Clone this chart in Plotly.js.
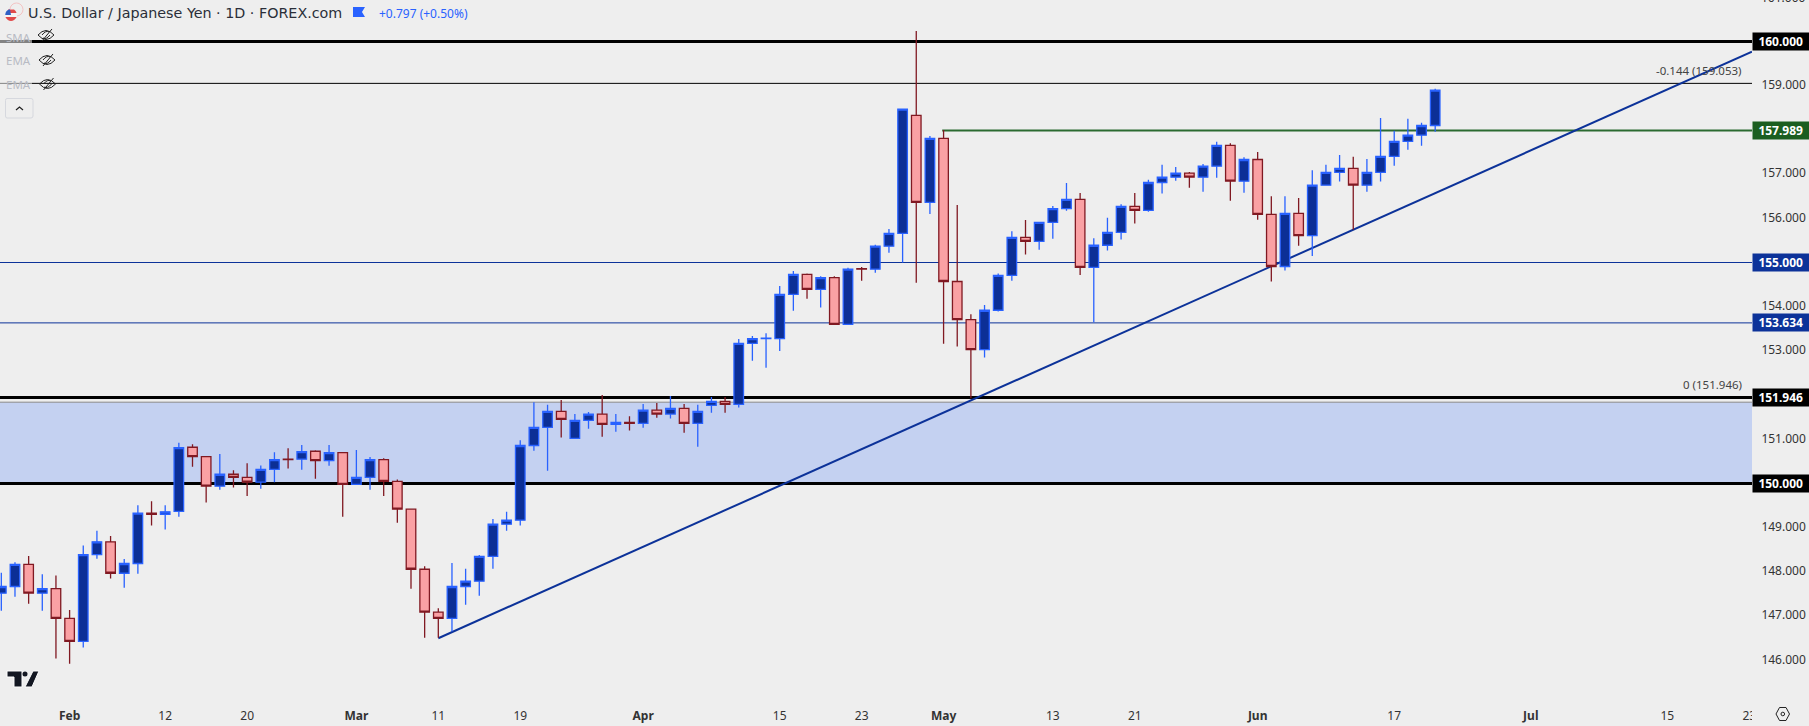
<!DOCTYPE html>
<html>
<head>
<meta charset="utf-8">
<script src="https://cdn.plot.ly/plotly-3.0.1.min.js"></script>
<style>html,body{margin:0;padding:0;background:#eeeeee;overflow:hidden}</style>
</head>
<body>
<div id="chart" style="width:1809px;height:726px"></div>
<script>
// USD/JPY daily candles
const open = [147.52,147.67,148.17,147.52,147.62,146.95,146.43,148.39,148.68,147.97,148.19,149.33,149.30,149.37,150.82,150.61,149.94,150.21,150.14,150.03,150.32,150.55,150.55,150.73,150.52,150.70,149.98,150.14,150.54,150.05,149.42,148.06,147.09,146.95,147.67,147.79,148.35,149.08,149.17,150.86,151.27,151.63,151.02,151.43,151.57,151.34,151.38,151.36,151.66,151.57,151.70,151.36,151.77,151.86,151.79,153.17,153.28,153.28,154.28,154.73,154.39,154.66,153.60,154.86,154.85,155.37,155.66,158.33,156.36,157.81,154.57,153.71,153.03,153.92,154.71,155.57,155.48,155.91,156.22,156.43,154.89,155.39,155.68,156.27,156.18,156.81,156.93,157.02,156.93,157.18,157.65,156.84,157.33,156.09,154.91,156.11,155.61,156.75,157.04,157.13,156.75,157.04,157.40,157.74,157.88,158.10];
const high = [147.98,148.22,148.36,147.95,147.92,147.14,148.60,148.93,148.81,148.29,149.51,149.60,149.51,150.92,150.89,150.62,150.67,150.30,150.46,150.41,150.71,150.80,150.87,150.75,150.87,150.70,150.76,150.60,150.57,150.09,149.42,148.13,147.18,148.20,148.07,148.38,149.20,149.36,150.98,151.84,151.78,151.89,151.57,151.62,152.00,151.57,151.52,151.80,151.82,151.98,151.80,151.78,151.96,151.96,153.27,153.34,153.40,154.47,154.81,154.75,154.69,154.69,154.88,154.90,155.40,155.76,158.47,160.24,157.86,158.00,156.30,153.83,154.04,154.75,155.71,155.96,155.91,156.28,156.80,156.57,155.55,156.01,156.32,156.57,156.87,157.21,157.16,157.05,157.23,157.73,157.70,157.38,157.50,156.50,156.50,156.46,157.09,157.21,157.43,157.39,157.34,158.27,157.98,158.25,158.16,158.93];
const low = [147.12,147.44,147.28,147.12,146.04,145.92,146.29,148.30,147.85,147.64,147.96,149.05,148.96,149.25,150.38,149.57,149.86,149.91,149.72,149.88,150.03,150.34,150.31,150.11,150.40,149.25,149.98,149.86,149.72,149.11,147.62,146.51,146.51,146.65,147.26,147.46,148.07,148.93,149.05,150.74,150.29,151.04,151.02,151.24,151.06,151.17,151.20,151.26,151.49,151.47,151.15,150.83,151.60,151.60,151.72,152.78,152.62,153.00,153.91,154.18,153.98,153.60,153.60,154.59,154.77,155.22,155.00,154.54,156.10,153.16,153.10,151.93,152.85,153.89,154.59,155.18,155.29,155.54,156.17,154.72,153.65,155.27,155.52,155.88,156.15,156.56,156.85,156.69,156.60,156.92,156.40,156.58,155.97,154.57,154.82,155.38,155.15,156.75,156.83,155.74,156.60,156.83,157.19,157.55,157.64,157.96];
const close = [147.67,148.17,147.52,147.62,146.95,146.43,148.39,148.68,147.97,148.19,149.33,149.30,149.36,150.81,150.61,149.94,150.21,150.14,150.03,150.32,150.54,150.54,150.72,150.52,150.70,149.98,150.14,150.54,150.05,149.42,148.06,147.09,146.95,147.67,147.79,148.35,149.08,149.17,150.86,151.27,151.63,151.45,151.43,151.57,151.34,151.38,151.36,151.66,151.57,151.70,151.36,151.63,151.86,151.79,153.17,153.28,153.29,154.28,154.73,154.39,154.66,153.60,154.85,154.85,155.37,155.66,158.47,156.36,157.81,154.57,153.71,153.03,153.92,154.71,155.57,155.48,155.91,156.22,156.43,154.89,155.39,155.68,156.27,156.18,156.81,156.93,157.02,156.93,157.18,157.65,156.84,157.33,156.09,154.91,156.11,155.61,156.75,157.04,157.13,156.75,157.04,157.40,157.74,157.88,158.10,158.90];
const bars = close.map((_, i) => i);

const timeTickBars = [5,12,18,26,32,38,47,57,63,69,77,83,92,102,112,122,128];
const timeTickText = ['<b>Feb</b>','12','20','<b>Mar</b>','11','19','<b>Apr</b>','15','23','<b>May</b>','13','21','<b>Jun</b>','17','<b>Jul</b>','15','23'];
const priceTicks = [146,147,148,149,151,153,154,156,157,159];
const priceTickText = ['146.000','147.000','148.000','149.000','151.000','153.000','154.000','156.000','157.000','159.000'];

// Drawn levels
const zoneLow = 150, zoneHigh = 151.84;
const heavyLevels = [160, 151.946, 150];
const thinBlackLevel = 159.053;
const blueLevels = [155, 153.634];
const greenLevel = 157.989, greenStartBar = 68.9;
const trendBars = [32, 128.2], trendPrices = [146.50, 159.77];
const priceTags = [
  {v:160, t:'160.000', c:'#000000'},
  {v:157.989, t:'157.989', c:'#1b5e20'},
  {v:155, t:'155.000', c:'#0c3299'},
  {v:153.634, t:'153.634', c:'#0c3299'},
  {v:151.946, t:'151.946', c:'#000000'},
  {v:150, t:'150.000', c:'#000000'}
];

const BG = '#eeeeee', W = 1752, H = 702;
const FONT = '"Noto Sans", "Open Sans", sans-serif';
const xRange = [-0.097, 128.2], yRange = [145.057, 160.939];

// Furniture helpers: pixel -> paper, for the icons only
const fx = p => +(p / W).toFixed(5), fy = p => +(1 - p / H).toFixed(5);
const px = s => s.replace(/(-?[\d.]+)[ ,](-?[\d.]+)/g, (m, a, b) => fx(+a) + ',' + fy(+b));
const icon = (d, o) => Object.assign({type:'path', xref:'paper', yref:'paper', layer:'above', path:px(d),
   line:{color:'rgba(0,0,0,0)', width:1}, fillcolor:'rgba(0,0,0,0)'}, o);
const rectP = (x0,y0,x1,y1,o) => Object.assign({type:'rect', xref:'paper', yref:'paper', layer:'above',
   x0:fx(x0), x1:fx(x1), y0:fy(y1), y1:fy(y0), line:{width:0}}, o);
const eye = (cx, cy) => icon(
  `M ${cx-8} ${cy} Q ${cx} ${cy-9} ${cx+8} ${cy} Q ${cx} ${cy+9} ${cx-8} ${cy} Z M ${cx-4} ${cy+6} L ${cx+6} ${cy-6} M ${cx-4} ${cy} Q ${cx} ${cy-5} ${cx+3} ${cy-3} M ${cx+4} ${cy} Q ${cx} ${cy+5} ${cx-3} ${cy+3}`,
  {line:{color:'#222222', width:1}});

const hline = (v, color, width, x0) => ({type:'line', layer:'below', xref:'x', yref:'y',
   x0: x0 === undefined ? xRange[0] : x0, x1:xRange[1], y0:v, y1:v, line:{color, width}});

const shapes = [
  {type:'rect', layer:'below', xref:'paper', yref:'y', x0:0, x1:1, y0:zoneLow, y1:zoneHigh, fillcolor:'#c4d1f1', line:{width:0}},
  hline(zoneHigh, '#8a8a8a', 1),
  ...heavyLevels.map(v => hline(v, '#000000', 3)),
  hline(thinBlackLevel, '#000000', 1),
  ...blueLevels.map(v => hline(v, '#0c3299', 1)),
  hline(greenLevel, '#2a6a30', 2, greenStartBar),
  {type:'line', layer:'below', xref:'x', yref:'y', x0:trendBars[0], x1:trendBars[1], y0:trendPrices[0], y1:trendPrices[1], line:{color:'#0c3299', width:2}},

  // faded strip behind the legend
  rectP(0,26,32,95,{fillcolor:BG, opacity:0.55}),
  // mask for the clipped last time label
  rectP(1752,703,1809,726,{fillcolor:BG}),

  // flag
  {type:'circle', xref:'paper', yref:'paper', layer:'above', x0:fx(10), x1:fx(23), y0:fy(16), y1:fy(3), line:{color:'#f3c4c4', width:1}, fillcolor:BG},
  {type:'circle', xref:'paper', yref:'paper', layer:'above', x0:fx(5), x1:fx(17), y0:fy(21), y1:fy(9), line:{width:0}, fillcolor:'#f4f4f4'},
  icon('M 8 9.5 L 14 9.5 Q 16 10.5 16.6 13 L 8 13 Z', {fillcolor:'#e04a4a'}),
  icon('M 5.4 17 L 16.6 17 Q 14.5 21 11 21 Q 7.5 21 5.4 17 Z', {fillcolor:'#e04a4a'}),
  icon('M 5.2 15 Q 5.2 10.5 10 9.2 L 11 15 Z', {fillcolor:'#2f5fc4'}),
  // blue marker
  icon('M 353 7 L 365 7 L 362 12 L 365 17 L 353 17 Z', {fillcolor:'#2962ff'}),
  // eyes
  eye(46,35), eye(47,60), eye(47.5,84),
  // collapse button
  {type:'path', xref:'paper', yref:'paper', layer:'above', fillcolor:'rgba(0,0,0,0)', line:{color:'#d6d8de', width:1},
   path:px('M 7 98.5 L 31 98.5 Q 33 98.5 33 100.5 L 33 116 Q 33 118 31 118 L 7 118 Q 5.5 118 5.5 116 L 5.5 100.5 Q 5.5 98.5 7 98.5 Z')},
  icon('M 16 110 L 19.5 107 L 23 110', {line:{color:'#222222', width:1.2}}),
  // TV logo
  icon('M 7 671 L 22 671 L 22 687 L 14 687 L 14 677 L 7 677 Z', {fillcolor:'#131722', line:{color:'#ffffff', width:1}}),
  {type:'circle', xref:'paper', yref:'paper', layer:'above', x0:fx(22.5), x1:fx(27.5), y0:fy(676.5), y1:fy(671.5), fillcolor:'#131722', line:{width:0}},
  icon('M 33 671 L 39 671 L 32 687 L 25 687 Z', {fillcolor:'#131722', line:{color:'#ffffff', width:1}}),
  // gear
  icon('M 1776 714 L 1779.5 707.5 L 1786 707.5 L 1789.5 714 L 1786 720.5 L 1779.5 720.5 Z', {line:{color:'#222222', width:1}}),
  {type:'circle', xref:'paper', yref:'paper', layer:'above', x0:fx(1781), x1:fx(1784.6), y0:fy(715.8), y1:fy(712.2), line:{color:'#222222', width:1}, fillcolor:'rgba(0,0,0,0)'}
];

const textAnn = (x, y, text, color, size, extra) => Object.assign({
  xref:'paper', yref:'paper', x:fx(x), y:fy(y), text, showarrow:false, xanchor:'left', yanchor:'middle',
  font:{family:FONT, size, color}, borderpad:0
}, extra || {});

const annotations = [
  textAnn(27, 13, 'U.S. Dollar / Japanese Yen · 1D · FOREX.com', '#2a2e39', 14.3, {font:{family:'"DejaVu Sans", sans-serif', size:14.3, color:'#2a2e39'}}),
  textAnn(378, 13, '+0.797 (+0.50%)', '#2962ff', 12),
  textAnn(5, 37, 'SMA', '#b8bbc4', 11.5),
  textAnn(5, 61, 'EMA', '#b8bbc4', 11.5),
  textAnn(5, 85, 'EMA', '#b8bbc4', 11.5),
  textAnn(1743, 70.7, '-0.144 (159.053)', '#444444', 11.5, {xanchor:'right'}),
  textAnn(1743, 384.5, '0 (151.946)', '#444444', 11.5, {xanchor:'right'}),
  textAnn(1760, -2.7, '161.000', '#333333', 12),
  ...priceTags.map(p => ({
    xref:'paper', yref:'y', x:1, y:p.v, xanchor:'left', yanchor:'middle', text:'<b>'+p.t+'</b>', showarrow:false,
    bgcolor:p.c, width:55.5, height:16.5, align:'center', borderpad:0,
    font:{family:FONT, size:12, color:'#ffffff'}
  }))
];

const trace = {
  type:'candlestick', x:bars, open, high, low, close,
  increasing:{line:{color:'#2962ff', width:1.3}, fillcolor:'#0c2f96'},
  decreasing:{line:{color:'#801922', width:1.3}, fillcolor:'#faa1a4'},
  whiskerwidth:0, showlegend:false, hoverinfo:'skip'
};

const layout = {
  width:1809, height:726,
  margin:{l:0, r:57, t:0, b:24, pad:0},
  boxgap:0.3, boxgroupgap:0,
  paper_bgcolor:BG, plot_bgcolor:BG, showlegend:false,
  font:{family:FONT, size:12, color:'#333333'},
  xaxis:{range:xRange, type:'linear', rangeslider:{visible:false}, showgrid:false, zeroline:false, showline:false,
    tickmode:'array', tickvals:timeTickBars, ticktext:timeTickText, ticks:'outside', ticklen:3, tickcolor:'rgba(0,0,0,0)',
    tickfont:{family:FONT, size:12, color:'#333333'}},
  yaxis:{range:yRange, side:'right', showgrid:false, zeroline:false, showline:false,
    tickmode:'array', tickvals:priceTicks, ticktext:priceTickText, ticks:'outside', ticklen:6, tickcolor:'rgba(0,0,0,0)',
    tickfont:{family:FONT, size:12, color:'#333333'}, ticklabelshift:-1},
  shapes, annotations
};
Plotly.newPlot('chart', [trace], layout, {displayModeBar:false, staticPlot:true});
</script>
</body>
</html>
